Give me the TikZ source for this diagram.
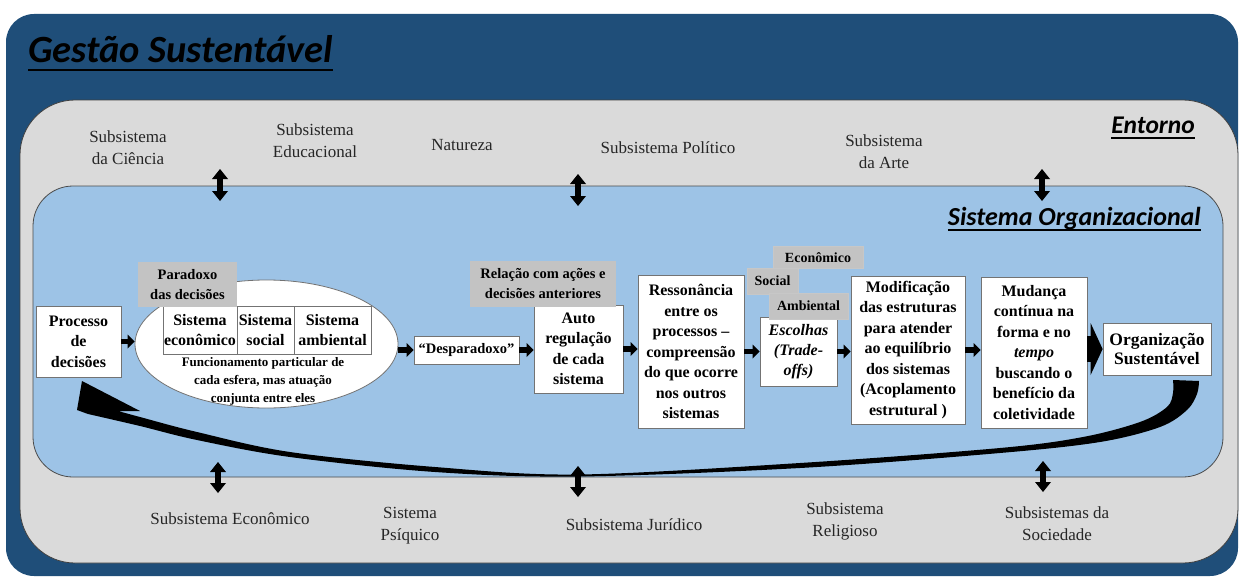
\documentclass[tikz,border=0pt]{standalone}
\usepackage{fontspec}
\setmainfont{Liberation Serif}
\newfontfamily\calibfont{Carlito}
\usetikzlibrary{arrows.meta,shapes.geometric}

\definecolor{deepblue}{HTML}{1F4E79}
\definecolor{envgray}{HTML}{DADADA}
\definecolor{orgblue}{HTML}{9DC3E6}
\definecolor{tagray}{HTML}{C3C3C3}
\definecolor{labeltext}{HTML}{262626}

\tikzset{
  box/.style={draw=black!55, line width=0.8pt, fill=white, align=center, inner sep=1pt,
    font=\bfseries\fontsize{16}{20.5}\selectfont},
  tag/.style={draw=black!22, line width=0.5pt, fill=tagray, align=center, inner sep=1pt,
    font=\bfseries\fontsize{14.5}{20}\selectfont},
  envlabel/.style={align=center, text=labeltext, inner sep=0pt, font=\fontsize{17}{22}\selectfont},
  heading/.style={inner sep=0pt, anchor=base east, font=\calibfont\bfseries\itshape\fontsize{26}{28}\selectfont},
  flow/.style={line width=5.5pt, -{Triangle[length=7pt,width=14pt,line width=0pt]}},
  bigflow/.style={line width=26pt, -{Triangle[length=12pt,width=52pt,line width=0pt]}},
  exchange/.style={line width=6pt,
    {Triangle[length=10pt,width=16pt,line width=0pt]}-{Triangle[length=10pt,width=16pt,line width=0pt]}},
}

\begin{document}
\begin{tikzpicture}[x=1pt,y=-1pt]
\useasboundingbox (0,0) rectangle (1241,578);

% nested frames: management, environment, organization
\fill[deepblue, rounded corners=28pt] (6,14) rectangle (1238,576);
\draw[black!75, fill=envgray, line width=0.8pt, rounded corners=55pt] (20,100) rectangle (1238,563);
\draw[black!70, fill=orgblue, line width=0.8pt, rounded corners=40pt] (33,186) rectangle (1223,477);

% headings
\node[inner sep=0pt, anchor=base west, font=\calibfont\bfseries\itshape\fontsize{38.5}{40}\selectfont] (gestao) at (28,63) {Gestão Sustentável};
\draw[line width=2.6pt] ([yshift=-7pt]gestao.base west) -- ([yshift=-7pt]gestao.base east);
\node[heading, font=\calibfont\bfseries\itshape\fontsize{25.5}{28}\selectfont] (entorno) at (1195,133) {Entorno};
\draw[line width=1.8pt] ([yshift=-5pt]entorno.base west) -- ([yshift=-5pt]entorno.base east);
\node[heading] (sorg) at (1201,225) {Sistema Organizacional};
\draw[line width=1.8pt] ([yshift=-5pt]sorg.base west) -- ([yshift=-5pt]sorg.base east);

% subsystems of the environment
\node[envlabel] (cien) at (128,148) {Subsistema\\da Ciência};
\node[envlabel] (educ) at (315,141) {Subsistema\\Educacional};
\node[envlabel] (natu) at (462,145) {Natureza};
\node[envlabel] (poli) at (668,148) {Subsistema Político};
\node[envlabel] (arte) at (884,152) {Subsistema\\da Arte};
\node[envlabel] (econ) at (230,519) {Subsistema Econômico};
\node[envlabel] (psiq) at (410,525.5) {Sistema\\Psíquico};
\node[envlabel] (juri) at (634,525) {Subsistema Jurídico};
\node[envlabel] (reli) at (845,521) {Subsistema\\Religioso};
\node[envlabel] (soci) at (1057,523.5) {Subsistemas da\\Sociedade};

% exchanges across the organization boundary
\coordinate (ta1) at (220,169);  \coordinate (tb1) at (220,201);
\coordinate (ta2) at (578,174);  \coordinate (tb2) at (578,206);
\coordinate (ta3) at (1042,169); \coordinate (tb3) at (1042,201);
\coordinate (ba1) at (218,462);  \coordinate (bb1) at (218,493);
\coordinate (ba2) at (578,466);  \coordinate (bb2) at (578,497);
\coordinate (ba3) at (1043,461); \coordinate (bb3) at (1043,492);
\foreach \i in {1,2,3} {
  \draw[exchange] (ta\i) -- (tb\i);
  \draw[exchange] (ba\i) -- (bb\i);
}

% feedback loop back to the decision process
\fill[black]
  plot[smooth, tension=0.55] coordinates {(1199,381) (1197,394) (1187,410) (1160,427) (1100,442) (1000,453) (800,468) (578,476.5) (435,472) (290,457) (197,440) (140,426) (88,414)}
  -- (77,410) -- (82,381) -- (140,411) -- (118,411)
  -- plot[smooth, tension=0.55] coordinates {(118,411) (140,417) (197,432) (290,452) (435,467) (578,474.5) (800,463) (1000,448) (1083,437) (1140,422) (1167,407) (1173,393) (1173,380)}
  -- cycle;

% process chain
\node[box, minimum width=85pt, minimum height=71pt] (proc) at (78.5,341.5) {Processo\\de\\decisões};
\node[ellipse, draw=black!55, line width=0.8pt, fill=white, minimum width=263pt, minimum height=128pt, inner sep=0pt] (ell) at (266.5,344) {};
\node[box, minimum width=74pt, minimum height=48pt] (seco) at (200,330) {Sistema\\econômico};
\node[box, minimum width=57pt, minimum height=48pt] (ssoc) at (265.5,330) {Sistema\\social};
\node[box, minimum width=77pt, minimum height=48pt] (samb) at (332.5,330) {Sistema\\ambiental};
\node[align=center, inner sep=0pt, font=\bfseries\fontsize{13}{18}\selectfont] (elltxt) at (263,381) {Funcionamento particular de\\cada esfera, mas atuação\\conjunta entre eles};
\node[box, font=\bfseries\fontsize{14.5}{17}\selectfont, minimum width=105pt, minimum height=28pt] (desp) at (466.5,350) {“Desparadoxo”};
\node[box, minimum width=89pt, minimum height=88pt] (auto) at (578.5,349) {Auto\\regulação\\de cada\\sistema};
\node[box, minimum width=106pt, minimum height=153pt] (res) at (691,351.5) {Ressonância\\entre os\\processos –\\compreensão\\do que ocorre\\nos outros\\sistemas};
\node[box, font=\bfseries\itshape\fontsize{16}{20}\selectfont, minimum width=77pt, minimum height=69pt] (esc) at (798.5,351.5) {Escolhas\\(Trade-\\offs)};
\node[box, minimum width=114pt, minimum height=148pt] (mod) at (908,350) {Modificação\\das estruturas\\para atender\\ao equilíbrio\\dos sistemas\\(Acoplamento\\estrutural )};
\node[box, minimum width=106pt, minimum height=151pt] (mud) at (1034,352.5) {Mudança\\contínua na\\forma e no\\\textit{tempo}\\buscando o\\benefício da\\coletividade};
\node[box, font=\bfseries\fontsize{17.5}{18.5}\selectfont, minimum width=108pt, minimum height=52pt] (org) at (1157,349) {Organização\\Sustentável};

% grey tags laid over the boxes
\node[tag, draw=none, minimum width=99pt, minimum height=45pt] (parad) at (187.5,284.5) {Paradoxo\\das decisões};
\node[tag, draw=none, minimum width=146pt, minimum height=46pt] (rel) at (543,284) {Relação com ações e\\decisões anteriores};
\node[tag, font=\bfseries\fontsize{14}{16}\selectfont, minimum width=90pt, minimum height=22pt] (teco) at (818,257.5) {Econômico};
\node[tag, font=\bfseries\fontsize{14}{16}\selectfont, minimum width=51pt, minimum height=26pt] (tsoc) at (772.5,281) {Social};
\node[tag, font=\bfseries\fontsize{14}{16}\selectfont, minimum width=79pt, minimum height=26pt] (tamb) at (808.5,306) {Ambiental};

% connectors
\draw[flow] (proc.east) -- (proc.east -| ell.west);
\draw[flow] (desp.west -| ell.east) -- (desp.west);
\draw[flow] (desp.east) -- (desp.east -| auto.west);
\draw[flow] (auto.east) -- (auto.east -| res.west);
\draw[flow] (esc.west -| res.east) -- (esc.west);
\draw[flow] (esc.east) -- (esc.east -| mod.west);
\draw[flow] (mod.east) -- (mod.east -| mud.west);
\draw[bigflow] (org.west -| mud.east) -- (org.west);
\end{tikzpicture}
\end{document}
